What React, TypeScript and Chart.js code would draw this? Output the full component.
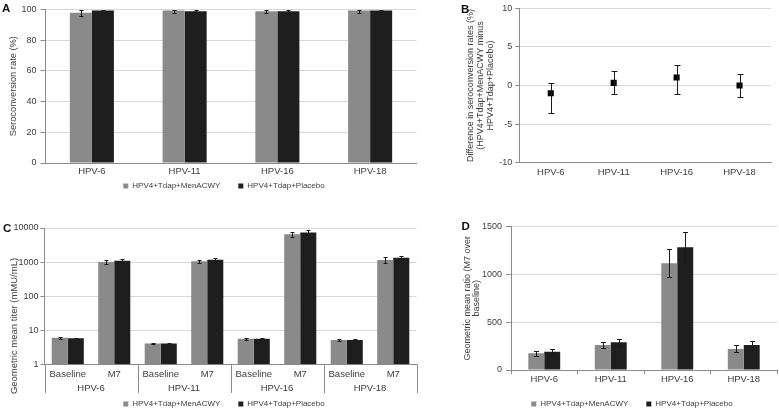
import React, { useEffect, useRef } from 'react';
import { Chart, registerables } from 'chart.js';

Chart.register(...registerables);

const FONT = '"Liberation Sans", Arial, Helvetica, sans-serif';
const TEXT = '#3d3d3d';
const GRAY_BAR = '#8a8a8a';
const DARK_BAR = '#1e1e1e';
const GRID = '#d9d9d9';
const AXIS = '#8c8c8c';
const WHISKER = '#1a1a1a';

// ---------- shared labels ----------
const HPV_TYPES = ['HPV-6', 'HPV-11', 'HPV-16', 'HPV-18'];
const SERIES = ['HPV4+Tdap+MenACWY', 'HPV4+Tdap+Placebo'];

// ---------- Panel A: seroconversion rate (%) ----------
const A_MEN = [97.9, 99.3, 98.8, 99.3];
const A_MEN_LO = [95.8, 97.9, 97.6, 97.9];
const A_MEN_HI = [99.5, 99.8, 99.7, 99.8];
const A_PLA = [99.3, 98.8, 98.8, 99.3];
const A_PLA_LO = [98.4, 97.6, 97.1, 98.3];
const A_PLA_HI = [99.9, 99.6, 99.7, 99.8];
const A_TICK_STEP = 20;

// ---------- Panel B: difference in seroconversion rates ----------
const B_DIFF = [-1.0, 0.35, 1.05, 0.0];
const B_LO = [-3.5, -1.15, -1.15, -1.5];
const B_HI = [0.35, 1.9, 2.6, 1.45];
const B_TITLE = ['Difference in seroconversion rates (%)', '(HPV4+Tdap+MenACWY minus', 'HPV4+Tdap+Placebo)'];

// ---------- Panel C: geometric mean titer (log) ----------
const C_TIME = ['Baseline', 'M7', 'Baseline', 'M7', 'Baseline', 'M7', 'Baseline', 'M7'];
const C_MEN = [6.0, 1000, 4.1, 1050, 5.6, 6500, 5.2, 1150];
const C_MEN_LO = [5.7, 900, 3.9, 920, 5.3, 5600, 4.9, 950];
const C_MEN_HI = [6.3, 1150, 4.3, 1180, 5.9, 7600, 5.4, 1380];
const C_PLA = [5.8, 1100, 4.1, 1180, 5.6, 7400, 5.2, 1330];
const C_PLA_LO = [5.5, 960, 3.9, 1020, 5.3, 6500, 4.9, 1150];
const C_PLA_HI = [6.1, 1250, 4.3, 1350, 5.9, 8500, 5.4, 1550];
const C_TICKS = [1, 10, 100, 1000, 10000];

// ---------- Panel D: geometric mean ratio ----------
const D_MEN = [175, 262, 1117, 220];
const D_MEN_LO = [150, 233, 977, 192];
const D_MEN_HI = [202, 296, 1262, 262];
const D_PLA = [192, 290, 1285, 262];
const D_PLA_LO = [165, 254, 1134, 209];
const D_PLA_HI = [217, 321, 1447, 304];
const D_TITLE = ['Geometric mean ratio (M7 over', 'baseline)'];

const fnt = (size: number, lineHeight = 1.2) => ({ family: FONT, size, lineHeight });

const LEG_FONT = 8;
const LEG_PAD = 18;
const LEG_BOX = 5;

// ---------- plugins ----------
const errorBars = {
  id: 'errorBars',
  afterDatasetsDraw(chart: any, _args: any, opts: any) {
    if (!opts || !opts.sets) return;
    const ctx = chart.ctx;
    const ys = chart.scales.y;
    const cap = opts.cap ?? 2;
    ctx.save();
    ctx.strokeStyle = opts.color ?? WHISKER;
    ctx.lineWidth = 1;
    opts.sets.forEach((s: any, di: number) => {
      const meta = chart.getDatasetMeta(di);
      meta.data.forEach((el: any, i: number) => {
        const x = Math.round(el.x) + 0.5;
        const yl = Math.round(ys.getPixelForValue(s.lo[i])) + 0.5;
        const yh = Math.round(ys.getPixelForValue(s.hi[i])) + 0.5;
        ctx.beginPath();
        ctx.moveTo(x, yl);
        ctx.lineTo(x, yh);
        ctx.moveTo(x - cap, yl);
        ctx.lineTo(x + cap, yl);
        ctx.moveTo(x - cap, yh);
        ctx.lineTo(x + cap, yh);
        ctx.stroke();
      });
    });
    ctx.restore();
  },
};

// The legend takes (almost) no room in the layout; it is moved to its place here.
const placeLegend = {
  id: 'placeLegend',
  afterLayout(chart: any, _args: any, opts: any) {
    const lg = chart.legend;
    if (!lg || opts == null || opts.cx == null) return;
    const w = chart.width;
    lg.left = opts.cx - w / 2;
    lg.right = opts.cx + w / 2;
    lg.top = opts.cy - LEG_PAD - LEG_FONT / 2;
    lg.bottom = lg.top + LEG_PAD + LEG_FONT + 10;
    lg.width = w;
    lg.height = lg.bottom - lg.top;
  },
};

const groupAxis = {
  id: 'groupAxis',
  afterDraw(chart: any, _args: any, opts: any) {
    if (!opts || !opts.groups) return;
    const ctx = chart.ctx;
    const xs = chart.scales.x;
    const base = chart.chartArea.bottom;
    const n = opts.groups.length;
    const per = xs.getLabels().length / n;
    ctx.save();
    ctx.strokeStyle = AXIS;
    ctx.lineWidth = 1;
    ctx.beginPath();
    for (let g = 0; g <= n; g++) {
      let x;
      if (g === 0) x = xs.left;
      else if (g === n) x = xs.right;
      else x = (xs.getPixelForValue(g * per - 1) + xs.getPixelForValue(g * per)) / 2;
      x = Math.round(x) + 0.5;
      ctx.moveTo(x, base);
      ctx.lineTo(x, base + opts.sepLen);
    }
    ctx.stroke();
    ctx.fillStyle = TEXT;
    ctx.font = `9.5px ${FONT}`;
    ctx.textAlign = 'center';
    ctx.textBaseline = 'middle';
    for (let g = 0; g < n; g++) {
      const cx = (xs.getPixelForValue(g * per) + xs.getPixelForValue(g * per + per - 1)) / 2;
      ctx.fillText(opts.groups[g], cx, base + opts.labelOffset);
    }
    if (opts.title) {
      ctx.font = `9.5px ${FONT}`;
      ctx.translate(opts.titleX, opts.titleY);
      ctx.rotate(-Math.PI / 2);
      ctx.fillText(opts.title, 0, 0);
    }
    ctx.restore();
  },
};

const legendOpts = {
  position: 'bottom',
  maxHeight: 1,
  labels: { font: fnt(LEG_FONT), color: TEXT, boxWidth: LEG_BOX, boxHeight: LEG_BOX, padding: LEG_PAD },
};

const yBase = (tickPad: number, tickLen = 5) => ({
  grid: { color: GRID, tickColor: AXIS, tickLength: tickLen, drawTicks: true },
  border: { display: true, color: AXIS },
  ticks: { font: fnt(9), color: TEXT, padding: tickPad },
});

const xLabels = (padding: number) => ({ font: fnt(9.5), color: TEXT, padding, maxRotation: 0, autoSkip: false });

// ---------- configs ----------
const configA = (): any => ({
  type: 'bar',
  data: {
    labels: HPV_TYPES,
    datasets: [
      { label: SERIES[0], data: A_MEN, backgroundColor: GRAY_BAR, borderWidth: 0, categoryPercentage: 0.475, barPercentage: 1 },
      { label: SERIES[1], data: A_PLA, backgroundColor: DARK_BAR, borderWidth: 0, categoryPercentage: 0.475, barPercentage: 1 },
    ],
  },
  options: {
    responsive: false,
    animation: false,
    devicePixelRatio: 1,
    layout: { padding: { left: 0, top: 8, right: 23.5, bottom: 21 } },
    scales: {
      x: {
        grid: { display: false, drawTicks: false },
        border: { display: true, color: AXIS },
        ticks: xLabels(3),
        afterFit: (s: any) => { s.height = 20; },
      },
      y: {
        ...yBase(4),
        min: 0,
        max: 100,
        ticks: { ...yBase(4).ticks, stepSize: A_TICK_STEP },
        title: { display: true, text: 'Seroconversion rate (%)', font: fnt(9.3), color: TEXT, padding: { top: 8.3, bottom: 0 } },
        afterFit: (s: any) => { s.width = 45.5; },
      },
    },
    plugins: {
      legend: legendOpts,
      tooltip: { enabled: false },
      errorBars: { sets: [{ lo: A_MEN_LO, hi: A_MEN_HI }, { lo: A_PLA_LO, hi: A_PLA_HI }], cap: 2 },
      placeLegend: { cx: 224, cy: 186 },
    },
  },
  plugins: [errorBars, placeLegend],
});

const configB = (): any => ({
  type: 'line',
  data: {
    labels: HPV_TYPES,
    datasets: [
      {
        label: 'Difference',
        data: B_DIFF,
        showLine: false,
        pointStyle: 'rect',
        pointRadius: 4.3,
        backgroundColor: '#000000',
        borderColor: '#000000',
        borderWidth: 0,
      },
    ],
  },
  options: {
    responsive: false,
    animation: false,
    devicePixelRatio: 1,
    layout: { padding: { left: 0, top: 8.3, right: 8, bottom: 22.3 } },
    scales: {
      x: {
        offset: true,
        grid: { display: false, drawTicks: false },
        border: { display: true, color: AXIS },
        ticks: xLabels(4),
        afterFit: (s: any) => { s.height = 20; },
      },
      y: {
        ...yBase(3, 4),
        min: -10,
        max: 10,
        ticks: { ...yBase(3).ticks, stepSize: 5 },
        title: { display: true, text: B_TITLE, font: fnt(9, 1.12), color: TEXT, padding: { top: 25, bottom: 0 } },
        afterFit: (s: any) => { s.width = 79.3; },
      },
    },
    plugins: {
      legend: { display: false },
      tooltip: { enabled: false },
      errorBars: { sets: [{ lo: B_LO, hi: B_HI }], cap: 3 },
    },
  },
  plugins: [errorBars],
});

const configC = (): any => ({
  type: 'bar',
  data: {
    labels: C_TIME,
    datasets: [
      { label: SERIES[0], data: C_MEN, backgroundColor: GRAY_BAR, borderWidth: 0, categoryPercentage: 0.69, barPercentage: 1 },
      { label: SERIES[1], data: C_PLA, backgroundColor: DARK_BAR, borderWidth: 0, categoryPercentage: 0.69, barPercentage: 1 },
    ],
  },
  options: {
    responsive: false,
    animation: false,
    devicePixelRatio: 1,
    layout: { padding: { left: 0, top: 23, right: 23.5, bottom: 24.7 } },
    scales: {
      x: {
        grid: { display: false, drawTicks: false },
        border: { display: true, color: AXIS },
        ticks: xLabels(4),
        afterFit: (s: any) => { s.height = 20; },
      },
      y: {
        ...yBase(2, 4),
        type: 'logarithmic',
        min: 1,
        max: 10000,
        afterBuildTicks: (s: any) => { s.ticks = C_TICKS.map((v) => ({ value: v })); },
        ticks: { ...yBase(2).ticks, callback: (v: any) => String(v) },
        afterFit: (s: any) => { s.width = 44.5; },
      },
    },
    plugins: {
      legend: legendOpts,
      tooltip: { enabled: false },
      errorBars: { sets: [{ lo: C_MEN_LO, hi: C_MEN_HI }, { lo: C_PLA_LO, hi: C_PLA_HI }], cap: 2 },
      placeLegend: { cx: 224, cy: 199 },
      groupAxis: {
        groups: HPV_TYPES,
        sepLen: 28.7,
        labelOffset: 24,
        title: 'Geometric mean titer (mMU/mL)',
        titleX: 14,
        titleY: 121,
      },
    },
  },
  plugins: [errorBars, placeLegend, groupAxis],
});

const configD = (): any => ({
  type: 'bar',
  data: {
    labels: HPV_TYPES,
    datasets: [
      { label: SERIES[0], data: D_MEN, backgroundColor: GRAY_BAR, borderWidth: 0, categoryPercentage: 0.48, barPercentage: 1 },
      { label: SERIES[1], data: D_PLA, backgroundColor: DARK_BAR, borderWidth: 0, categoryPercentage: 0.48, barPercentage: 1 },
    ],
  },
  options: {
    responsive: false,
    animation: false,
    devicePixelRatio: 1,
    layout: { padding: { left: 0, top: 21.7, right: 2, bottom: 19 } },
    scales: {
      x: {
        grid: { display: true, drawOnChartArea: false, drawTicks: true, tickLength: 4, color: AXIS, offset: true },
        border: { display: true, color: AXIS },
        ticks: xLabels(0),
        afterFit: (s: any) => { s.height = 20; },
      },
      y: {
        ...yBase(4),
        min: 0,
        max: 1500,
        ticks: { ...yBase(4).ticks, stepSize: 500, callback: (v: any) => String(v) },
        title: { display: true, text: D_TITLE, font: fnt(9, 1.0), color: TEXT, padding: { top: 23, bottom: 0 } },
        afterFit: (s: any) => { s.width = 71; },
      },
    },
    plugins: {
      legend: legendOpts,
      tooltip: { enabled: false },
      errorBars: { sets: [{ lo: D_MEN_LO, hi: D_MEN_HI }, { lo: D_PLA_LO, hi: D_PLA_HI }], cap: 2.5 },
      placeLegend: { cx: 192, cy: 199 },
    },
  },
  plugins: [errorBars, placeLegend],
});

function Panel(props: { left: number; top: number; width: number; height: number; make: () => any }) {
  const ref = useRef<HTMLCanvasElement | null>(null);
  useEffect(() => {
    const chart = new Chart(ref.current as HTMLCanvasElement, props.make());
    return () => chart.destroy();
  }, []);
  return (
    <canvas
      ref={ref}
      width={props.width}
      height={props.height}
      style={{ position: 'absolute', left: props.left, top: props.top, width: props.width, height: props.height }}
    />
  );
}

const letterStyle = (left: number, top: number): React.CSSProperties => ({
  position: 'absolute',
  left,
  top,
  fontFamily: FONT,
  fontWeight: 'bold',
  fontSize: '11.5px',
  lineHeight: '12px',
  color: '#111',
});

export default function App() {
  return (
    <div style={{ position: 'absolute', left: 0, top: 0, width: 779, height: 410, overflow: 'hidden', background: '#ffffff' }}>
      <Panel left={0} top={0} width={440} height={205} make={configA} />
      <Panel left={440} top={0} width={339} height={205} make={configB} />
      <Panel left={0} top={205} width={440} height={205} make={configC} />
      <Panel left={440} top={205} width={339} height={205} make={configD} />
      <div style={letterStyle(2, 1.5)}>A</div>
      <div style={letterStyle(461, 2.5)}>B</div>
      <div style={letterStyle(3, 221.8)}>C</div>
      <div style={letterStyle(461.5, 219.5)}>D</div>
    </div>
  );
}
